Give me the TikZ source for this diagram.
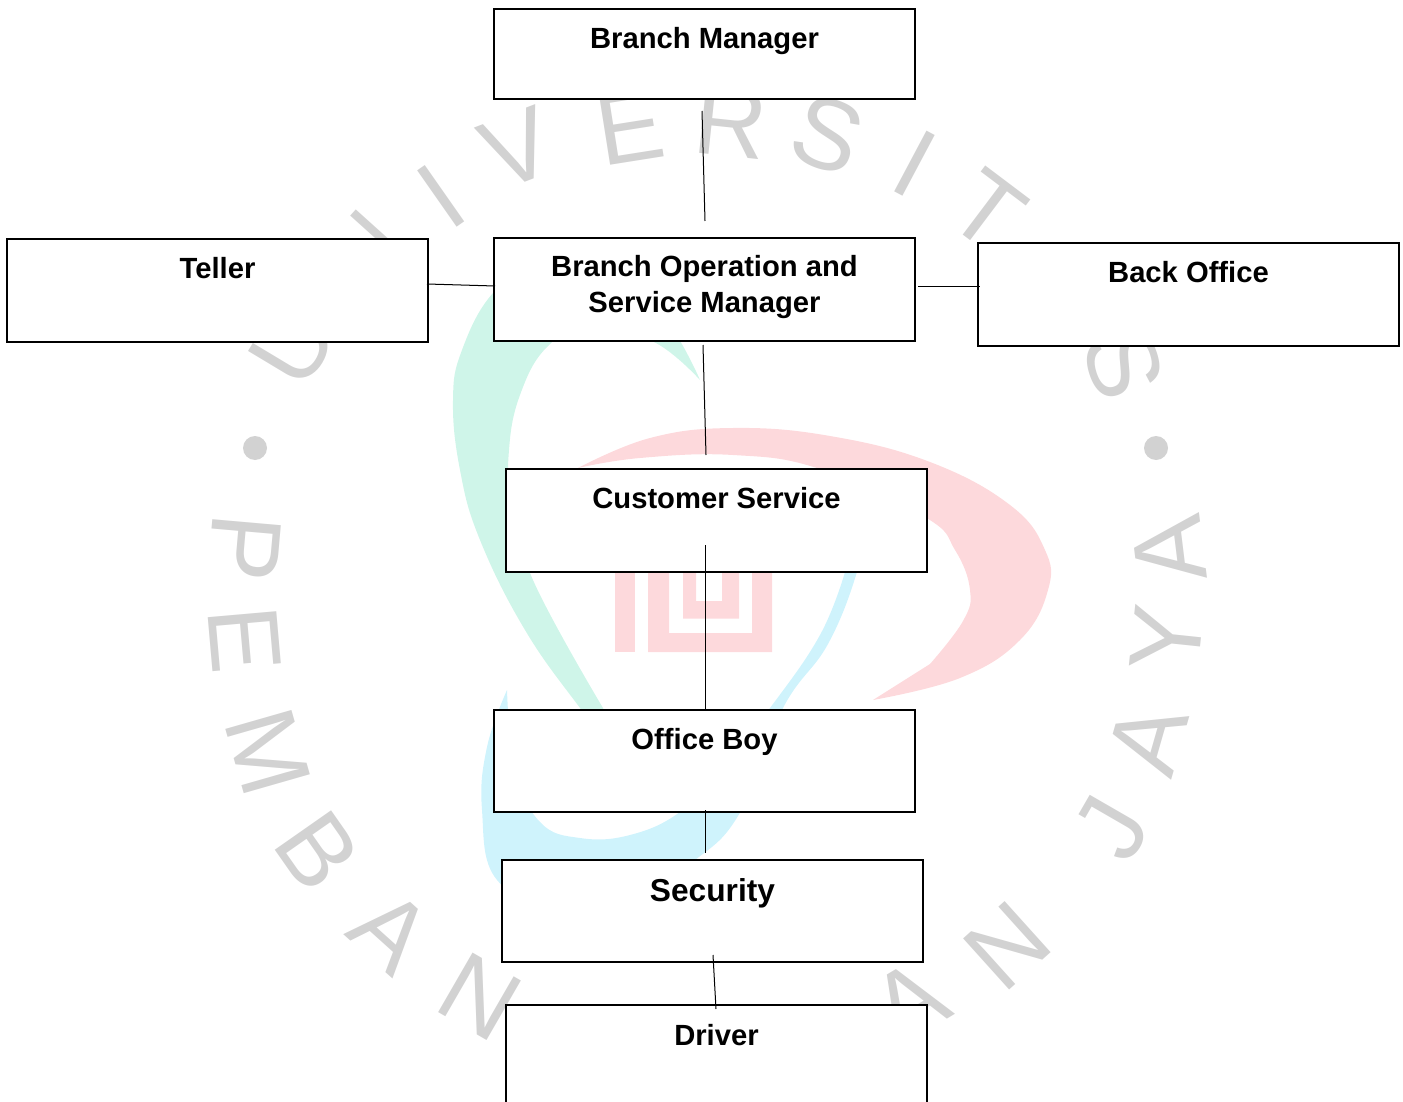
\documentclass[tikz,border=0pt]{standalone}
\usepackage{fontspec}
\setmainfont{Liberation Sans}
\usetikzlibrary{positioning}
\definecolor{wmgray}{HTML}{D2D2D2}
\definecolor{wmgreen}{HTML}{CFF5E9}
\definecolor{wmred}{HTML}{FDD9DC}
\definecolor{wmblue}{HTML}{CFF3FC}

\begin{document}
\begin{tikzpicture}[x=1pt, y=-1pt,
                    orgbox/.style={rectangle, draw=black, fill=white, line width=1.1pt, inner sep=0pt, outer sep=0pt, minimum width=421pt},
                    orgtitle/.style={inner sep=0pt, align=center, font=\fontsize{29.2}{36}\selectfont\bfseries},
                    orgline/.style={line width=1pt, black},
                    wmletter/.style={inner sep=0pt, text=wmgray, font=\fontsize{100}{100}\selectfont},
                ]
                    \useasboundingbox (0,0) rectangle (1403,1102);

                    %Watermark
                    \fill[wmgreen] plot[smooth, tension=0.7] coordinates {(700,380) (640,290) (540,262) (493,293) (462,350) (453,400) (460,470) (480,540) (525,630) (580,708) (625,765)}
                        -- plot[smooth, tension=0.7] coordinates {(603,708) (533,580) (512,500) (509,450) (520,395) (547,347) (590,325) (654,342) (700,380)} -- cycle;
                    \fill[wmblue] plot[smooth, tension=0.7] coordinates {(507,690) (487,747) (482,810) (497,880) (560,905) (640,890) (695,860) (741,811) (783,708) (828,644) (857,572) (862,535)}
                        -- plot[smooth, tension=0.7] coordinates {(845,572) (820,635) (770,708) (720,770) (680,812) (630,835) (580,838) (540,822) (515,770) (507,690)} -- cycle;
                    \fill[wmred] plot[smooth, tension=0.7] coordinates {(578,468) (650,438) (733,428) (830,436) (930,462) (1010,505) (1045,550) (1048,590) (1020,640) (960,678) (873,700)}
                        -- plot[smooth, tension=0.7] coordinates {(930,664) (963,621) (970,590) (955,550) (925,517) (820,469) (733,455) (640,458) (578,468)} -- cycle;
                    \fill[wmred] (615,560) rectangle (635,652);
                    \fill[wmred, even odd rule] (648,560) rectangle (772,652) (669,560) rectangle (752,633);
                    \fill[wmred, even odd rule] (683,560) rectangle (739,618.5) (696,560) rectangle (722,601);

                    \foreach \letter/\lx/\ly/\lrot [count=\i] in {U/293/345/59, N/363/254/48, I/441/196/35, V/517/148/21, E/630/127/9, R/731/122/-6, S/828/135/-20, I/915/164/-28, T/988/210/-37, S/1124/364/-72,
                        P/245/548/-95, E/245/640/-85, M/268/752/-74, B/318/851/-55, A/391/931/-42, N/480/997/-30, A/909/1002/31, N/1007/946/42, J/1112/828/60, A/1148/739/74, Y/1167/639/84, A/1169/550/97}
                        \node[wmletter, rotate=\lrot](wm\i) at (\lx,\ly) {\letter};
                    \fill[wmgray] (255,448) circle (12);
                    \fill[wmgray] (1156,448) circle (12);

                    %Nodes
                    \node[orgbox, minimum height=90pt](manager) at (704.5,54) {};
                    \node[orgbox, minimum height=103pt](teller) at (217.5,290.5) {};
                    \node[orgbox, minimum height=103pt](operation) at (704.5,289.5) {};
                    \node[orgbox, minimum height=103pt](backoffice) at (1188.5,294.5) {};
                    \node[orgbox, minimum height=103pt](service) at (716.5,520.5) {};
                    \node[orgbox, minimum height=102pt](officeboy) at (704.5,761) {};
                    \node[orgbox, minimum height=102pt](security) at (712.5,911) {};
                    \node[orgbox, minimum height=103pt](driver) at (716.5,1056.5) {};

                    \node[orgtitle](managertxt)[below=18pt of manager.north] {Branch Manager};
                    \node[orgtitle](tellertxt)[below=18pt of teller.north] {Teller};
                    \node[orgtitle](operationtxt)[below=17pt of operation.north] {Branch Operation and\\Service Manager};
                    \node[orgtitle](backofficetxt)[below=18pt of backoffice.north] {Back Office};
                    \node[orgtitle](servicetxt)[below=18pt of service.north] {Customer Service};
                    \node[orgtitle](officeboytxt)[below=18pt of officeboy.north] {Office Boy};
                    \node[orgtitle, font=\fontsize{31.7}{36}\selectfont\bfseries](securitytxt)[below=18pt of security.north] {Security};
                    \node[orgtitle](drivertxt)[below=19pt of driver.north] {Driver};

                    %Lines
                    \draw[orgline]([xshift=-2.5pt, yshift=-12pt]manager.south) -- ([xshift=0.5pt, yshift=17pt]operation.north);
                    \draw[orgline]([xshift=-1pt, yshift=6.5pt]teller.east) -- ([xshift=1pt, yshift=3.5pt]operation.west);
                    \draw[orgline]([xshift=3pt, yshift=3.5pt]operation.east) -- ([xshift=2pt, yshift=8.5pt]backoffice.west);
                    \draw[orgline]([xshift=-1.5pt, yshift=-4pt]operation.south) -- ([xshift=-10.5pt, yshift=14pt]service.north);
                    \draw[orgline]([xshift=-11.5pt, yshift=27pt]service.south) -- ([xshift=0.5pt]officeboy.north);
                    \draw[orgline]([xshift=0.5pt, yshift=2pt]officeboy.south) -- ([xshift=-7.5pt, yshift=7pt]security.north);
                    \draw[orgline]([xshift=0.5pt, yshift=7pt]security.south) -- ([xshift=-0.5pt, yshift=-4pt]driver.north);
                \end{tikzpicture}
\end{document}
